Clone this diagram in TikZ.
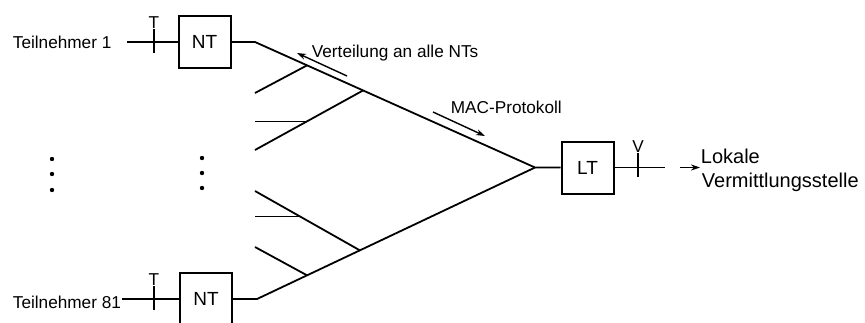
\documentclass[tikz,border=0pt]{standalone}
\usepackage{fontspec}
\setmainfont{Liberation Sans}
\usetikzlibrary{arrows.meta, calc}

\begin{document}
\begin{tikzpicture}[x=0.5pt, y=-0.5pt, line width=0.9pt,
  every node/.style={font=\fontsize{8.6}{10}\selectfont, inner sep=0pt},
  term/.style={draw, line width=1pt, minimum width=26pt, minimum height=26pt, font=\fontsize{9.5}{11}\selectfont},
  tick/.style={line width=0.7pt},
  flow/.style={line width=0.7pt, -{Stealth[length=4.5pt, width=3pt]}}]
  \useasboundingbox (0,0) rectangle (865,322);

  \node[term] (nt1) at (204.5,42) {NT};
  \node[term] (nt81) at (206,299) {NT};
  \node[term] (lt) at (587.5,167.5) {LT};
  \node[anchor=base west] (tn1) at (12,48) {Teilnehmer 1};
  \node[anchor=base west] (tn81) at (12,308) {Teilnehmer 81};

  \coordinate (s1) at (127,42);
  \coordinate (k1) at (255,42);
  \coordinate (k81) at (257,299);
  \coordinate (apex) at (535,167.5);
  \coordinate (v) at (665,167.5);
  \draw (s1) -- (nt1);
  \draw (tn81.east |- nt81.west) -- (nt81.west);
  \draw (nt1.east) -- (k1) -- (apex) -- (lt.west);
  \draw (nt81.east) -- (k81) -- (apex);
  \draw (lt.east) -- (v);

  % Baum oben
  \coordinate (j1) at ($(k1)!0.186!(apex)$);
  \coordinate (j2) at ($(k1)!0.386!(apex)$);
  \coordinate (e1) at (255,93);
  \coordinate (e2) at (255,150);
  \coordinate (j2a) at ($(j2)!0.52!(e2)$);
  \draw (j1) -- (e1);
  \draw (j2) -- (e2);
  \draw (j2a) -- (e2 |- j2a);

  % Baum unten
  \coordinate (j3) at ($(k81)!0.18!(apex)$);
  \coordinate (j4) at ($(k81)!0.37!(apex)$);
  \coordinate (e3) at (255,247);
  \coordinate (e4) at (255,191);
  \coordinate (j4a) at ($(j4)!0.57!(e4)$);
  \draw (j3) -- (e3);
  \draw (j4) -- (e4);
  \draw (j4a) -- (e4 |- j4a);

  \node[anchor=south] (T1) at (154,29) {T};
  \draw[tick] (T1.south) -- ++(0,24);
  \node[anchor=south] (T81) at (154,286) {T};
  \draw[tick] (T81.south) -- ++(0,24);
  \node[anchor=south] (V) at (638,153) {V};
  \draw[tick] (V.south) -- ++(0,24);

  \coordinate (d1) at (347,76);
  \coordinate (d2) at (297,53);
  \draw[flow] (d1) -- (d2);
  \node[anchor=base west] (vert) at (311,57) {Verteilung an alle NTs};
  \coordinate (m1) at (433,112);
  \coordinate (m2) at (485,136);
  \draw[flow] (m1) -- (m2);
  \node[anchor=base west] (mac) at (450,113) {MAC-Protokoll};

  \node[anchor=base west, font=\fontsize{10}{12}\selectfont] (lok) at (700,163) {Lokale};
  \node[anchor=base west, font=\fontsize{10}{12}\selectfont] (verm) at (701,187) {Vermittlungsstelle};
  \coordinate (a0) at (680,167.5);
  \draw[flow] (a0) -- (lok.west |- a0);

  \foreach \y in {159,174,190} \fill (52,\y) circle (1.1pt);
  \foreach \y in {158,173,188} \fill (202,\y) circle (1.1pt);
\end{tikzpicture}
\end{document}
